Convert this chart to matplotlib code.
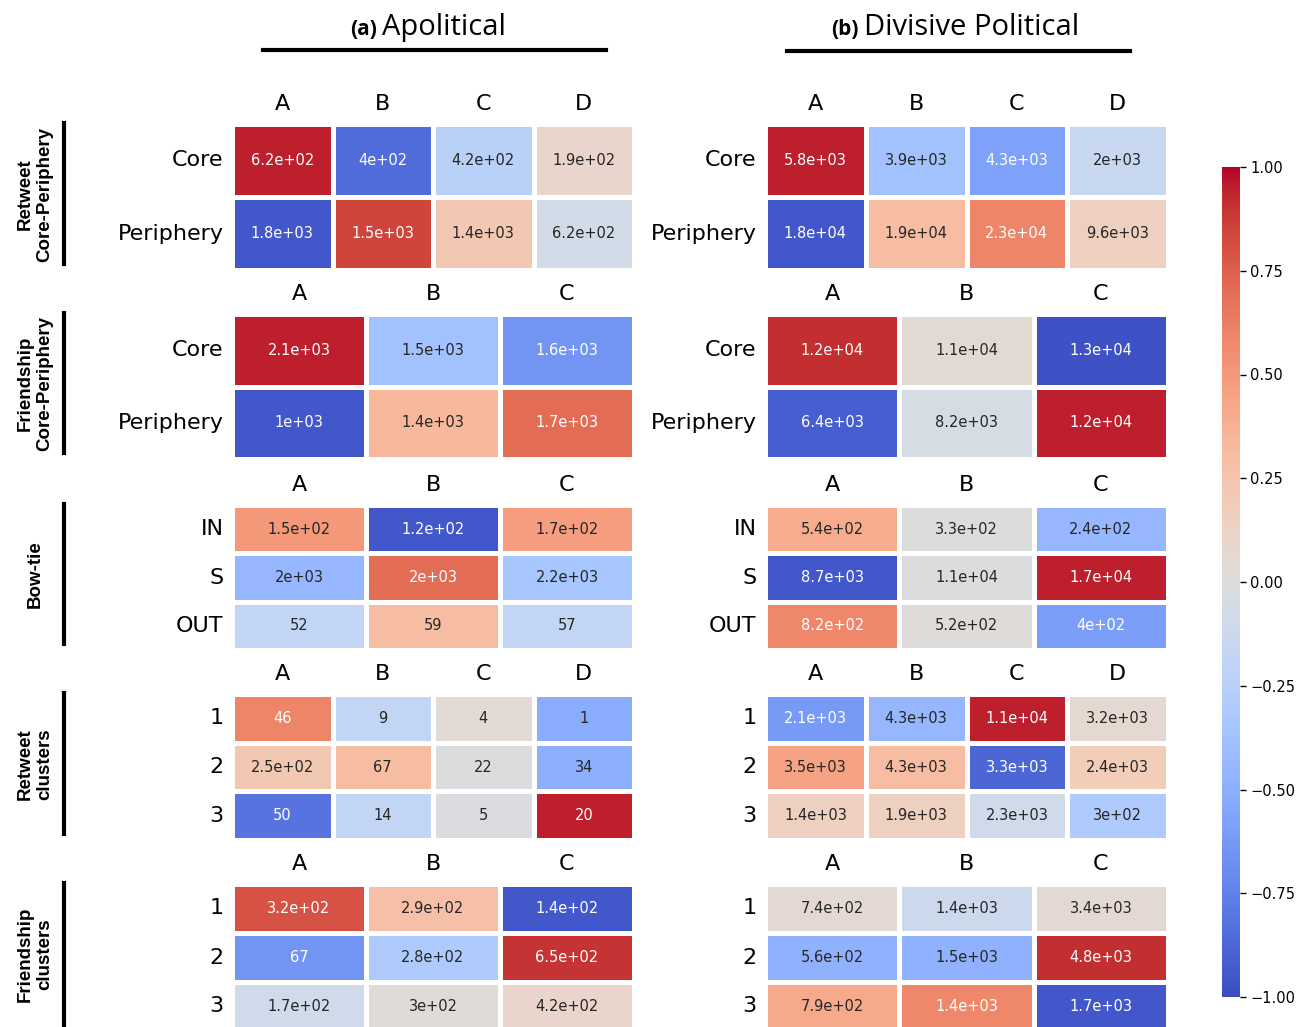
import matplotlib
matplotlib.use("Agg")
import matplotlib.pyplot as plt
from matplotlib.lines import Line2D
from matplotlib.cm import ScalarMappable
from matplotlib.colors import Normalize
from matplotlib.ticker import FuncFormatter
import numpy as np
import seaborn as sns

W, H = 1306, 1027

# axis labels
rows_cp = ["Core", "Periphery"]
rows_bt = ["IN", "S", "OUT"]
rows_cl = ["1", "2", "3"]
cols4 = ["A", "B", "C", "D"]
cols3 = ["A", "B", "C"]

# ---- apolitical: counts (annotations) and colour scores ----
apol_rt_cp_n = [[620, 400, 420, 190], [1800, 1500, 1400, 620]]
apol_rt_cp_v = [[0.95, -0.85, -0.25, 0.10], [-0.95, 0.85, 0.22, -0.08]]

apol_fr_cp_n = [[2100, 1500, 1600], [1000, 1400, 1700]]
apol_fr_cp_v = [[0.95, -0.38, -0.65], [-0.95, 0.33, 0.70]]

apol_bt_n = [[150, 120, 170], [2000, 2000, 2200], [52, 59, 57]]
apol_bt_v = [[0.50, -0.95, 0.48], [-0.45, 0.70, -0.35], [-0.18, 0.30, -0.18]]

apol_rt_cl_n = [[46, 9, 4, 1], [250, 67, 22, 34], [50, 14, 5, 20]]
apol_rt_cl_v = [[0.60, -0.18, 0.04, -0.52], [0.22, 0.30, -0.01, -0.50],
                [-0.82, -0.18, -0.02, 0.95]]

apol_fr_cl_n = [[320, 290, 140], [67, 280, 650], [170, 300, 420]]
apol_fr_cl_v = [[0.80, 0.28, -0.95], [-0.65, -0.30, 0.90], [-0.10, 0.02, 0.10]]

# ---- divisive political ----
div_rt_cp_n = [[5800, 3900, 4300, 2000], [18000, 19000, 23000, 9600]]
div_rt_cp_v = [[0.95, -0.38, -0.58, -0.15], [-0.95, 0.30, 0.60, 0.15]]

div_fr_cp_n = [[12000, 11000, 13000], [6400, 8200, 12000]]
div_fr_cp_v = [[0.92, 0.05, -0.97], [-0.92, -0.05, 0.95]]

div_bt_n = [[540, 330, 240], [8700, 11000, 17000], [820, 520, 400]]
div_bt_v = [[0.40, 0.00, -0.45], [-0.95, -0.01, 0.95], [0.58, 0.02, -0.60]]

div_rt_cl_n = [[2100, 4300, 11000, 3200], [3500, 4300, 3300, 2400],
               [1400, 1900, 2300, 300]]
div_rt_cl_v = [[-0.62, -0.45, 0.95, 0.07], [0.45, 0.30, -0.88, 0.18],
               [0.15, 0.15, -0.10, -0.30]]

div_fr_cl_n = [[740, 1400, 3400], [560, 1500, 4800], [790, 1400, 1700]]
div_fr_cl_v = [[0.06, -0.12, 0.06], [-0.48, -0.48, 0.92], [0.42, 0.58, -0.95]]

sections = ["Retweet\nCore-Periphery", "Friendship\nCore-Periphery", "Bow-tie",
            "Retweet\nclusters", "Friendship\nclusters"]

panels = [
    (apol_rt_cp_n, apol_rt_cp_v, div_rt_cp_n, div_rt_cp_v, rows_cp, cols4),
    (apol_fr_cp_n, apol_fr_cp_v, div_fr_cp_n, div_fr_cp_v, rows_cp, cols3),
    (apol_bt_n, apol_bt_v, div_bt_n, div_bt_v, rows_bt, cols3),
    (apol_rt_cl_n, apol_rt_cl_v, div_rt_cl_n, div_rt_cl_v, rows_cl, cols4),
    (apol_fr_cl_n, apol_fr_cl_v, div_fr_cl_n, div_fr_cl_v, rows_cl, cols3),
]

# pixel layout
row_spans = [(124, 270), (314, 459), (505, 650), (694, 840), (884, 1031)]
col_spans = [(232, 634), (765, 1168)]


def add_px_axes(fig, x0, y0, x1, y1):
    return fig.add_axes([x0 / W, 1 - y1 / H, (x1 - x0) / W, (y1 - y0) / H])


def fig_line(fig, x0, y0, x1, y1, lw=3):
    fig.add_artist(Line2D([x0 / W, x1 / W], [1 - y0 / H, 1 - y1 / H],
                          transform=fig.transFigure, color="black", lw=lw))


def draw_heat(ax, counts, vals, rows, cols):
    sns.heatmap(np.array(vals), ax=ax, cmap="coolwarm", vmin=-1, vmax=1,
                annot=np.array(counts), fmt=".2g", cbar=False,
                linewidths=2.5, linecolor="white",
                annot_kws={"fontsize": 10.5},
                xticklabels=cols, yticklabels=rows)
    ax.xaxis.tick_top()
    ax.tick_params(axis="x", length=0, labelsize=16, pad=7,
                   top=False, bottom=False, labeltop=True, labelbottom=False)
    ax.tick_params(axis="y", length=0, labelsize=16, pad=6)
    plt.setp(ax.get_xticklabels(), rotation=0)
    plt.setp(ax.get_yticklabels(), rotation=0)


fig = plt.figure(figsize=(W / 100, H / 100), dpi=100)

for (a_n, a_v, d_n, d_v, rows, cols), (y0, y1), name in zip(panels, row_spans, sections):
    for (x0, x1), n, v in zip(col_spans, (a_n, d_n), (a_v, d_v)):
        ax = add_px_axes(fig, x0, y0, x1, y1)
        draw_heat(ax, n, v, rows, cols)

    # section label with vertical bar
    fig_line(fig, 64, y0 - 1, 64, y1 - 6)
    fig.text(35 / W, 1 - ((y0 + y1) / 2 - 3) / H, name, rotation=90,
             ha="center", va="center", fontsize=13.5, fontweight="bold",
             family="Liberation Sans", linespacing=1.2)

# column titles
for letter, title, mid, xl, xr, ly in [("(a)", "Apolitical", 379, 263, 606, 50),
                                       ("(b)", "Divisive Political", 861, 787, 1130, 51)]:
    fig.text((mid - 2) / W, 1 - 35 / H, letter, ha="right", va="baseline",
             fontsize=15, fontweight="bold", family="Open Sans")
    fig.text((mid + 3) / W, 1 - 35 / H, title, ha="left", va="baseline",
             fontsize=21, family="Open Sans")
    fig_line(fig, xl, ly, xr, ly)

# shared colour bar
cax = add_px_axes(fig, 1222, 167, 1240, 997)
sm = ScalarMappable(norm=Normalize(-1, 1), cmap="coolwarm")
cb = fig.colorbar(sm, cax=cax, ticks=np.linspace(-1, 1, 9),
                  format=FuncFormatter(lambda v, p: f"{v:.2f}".replace("-", "\u2212")))
cb.outline.set_visible(False)
cax.tick_params(labelsize=10.5, length=4, width=1)

fig.savefig("out.png", dpi=100)
